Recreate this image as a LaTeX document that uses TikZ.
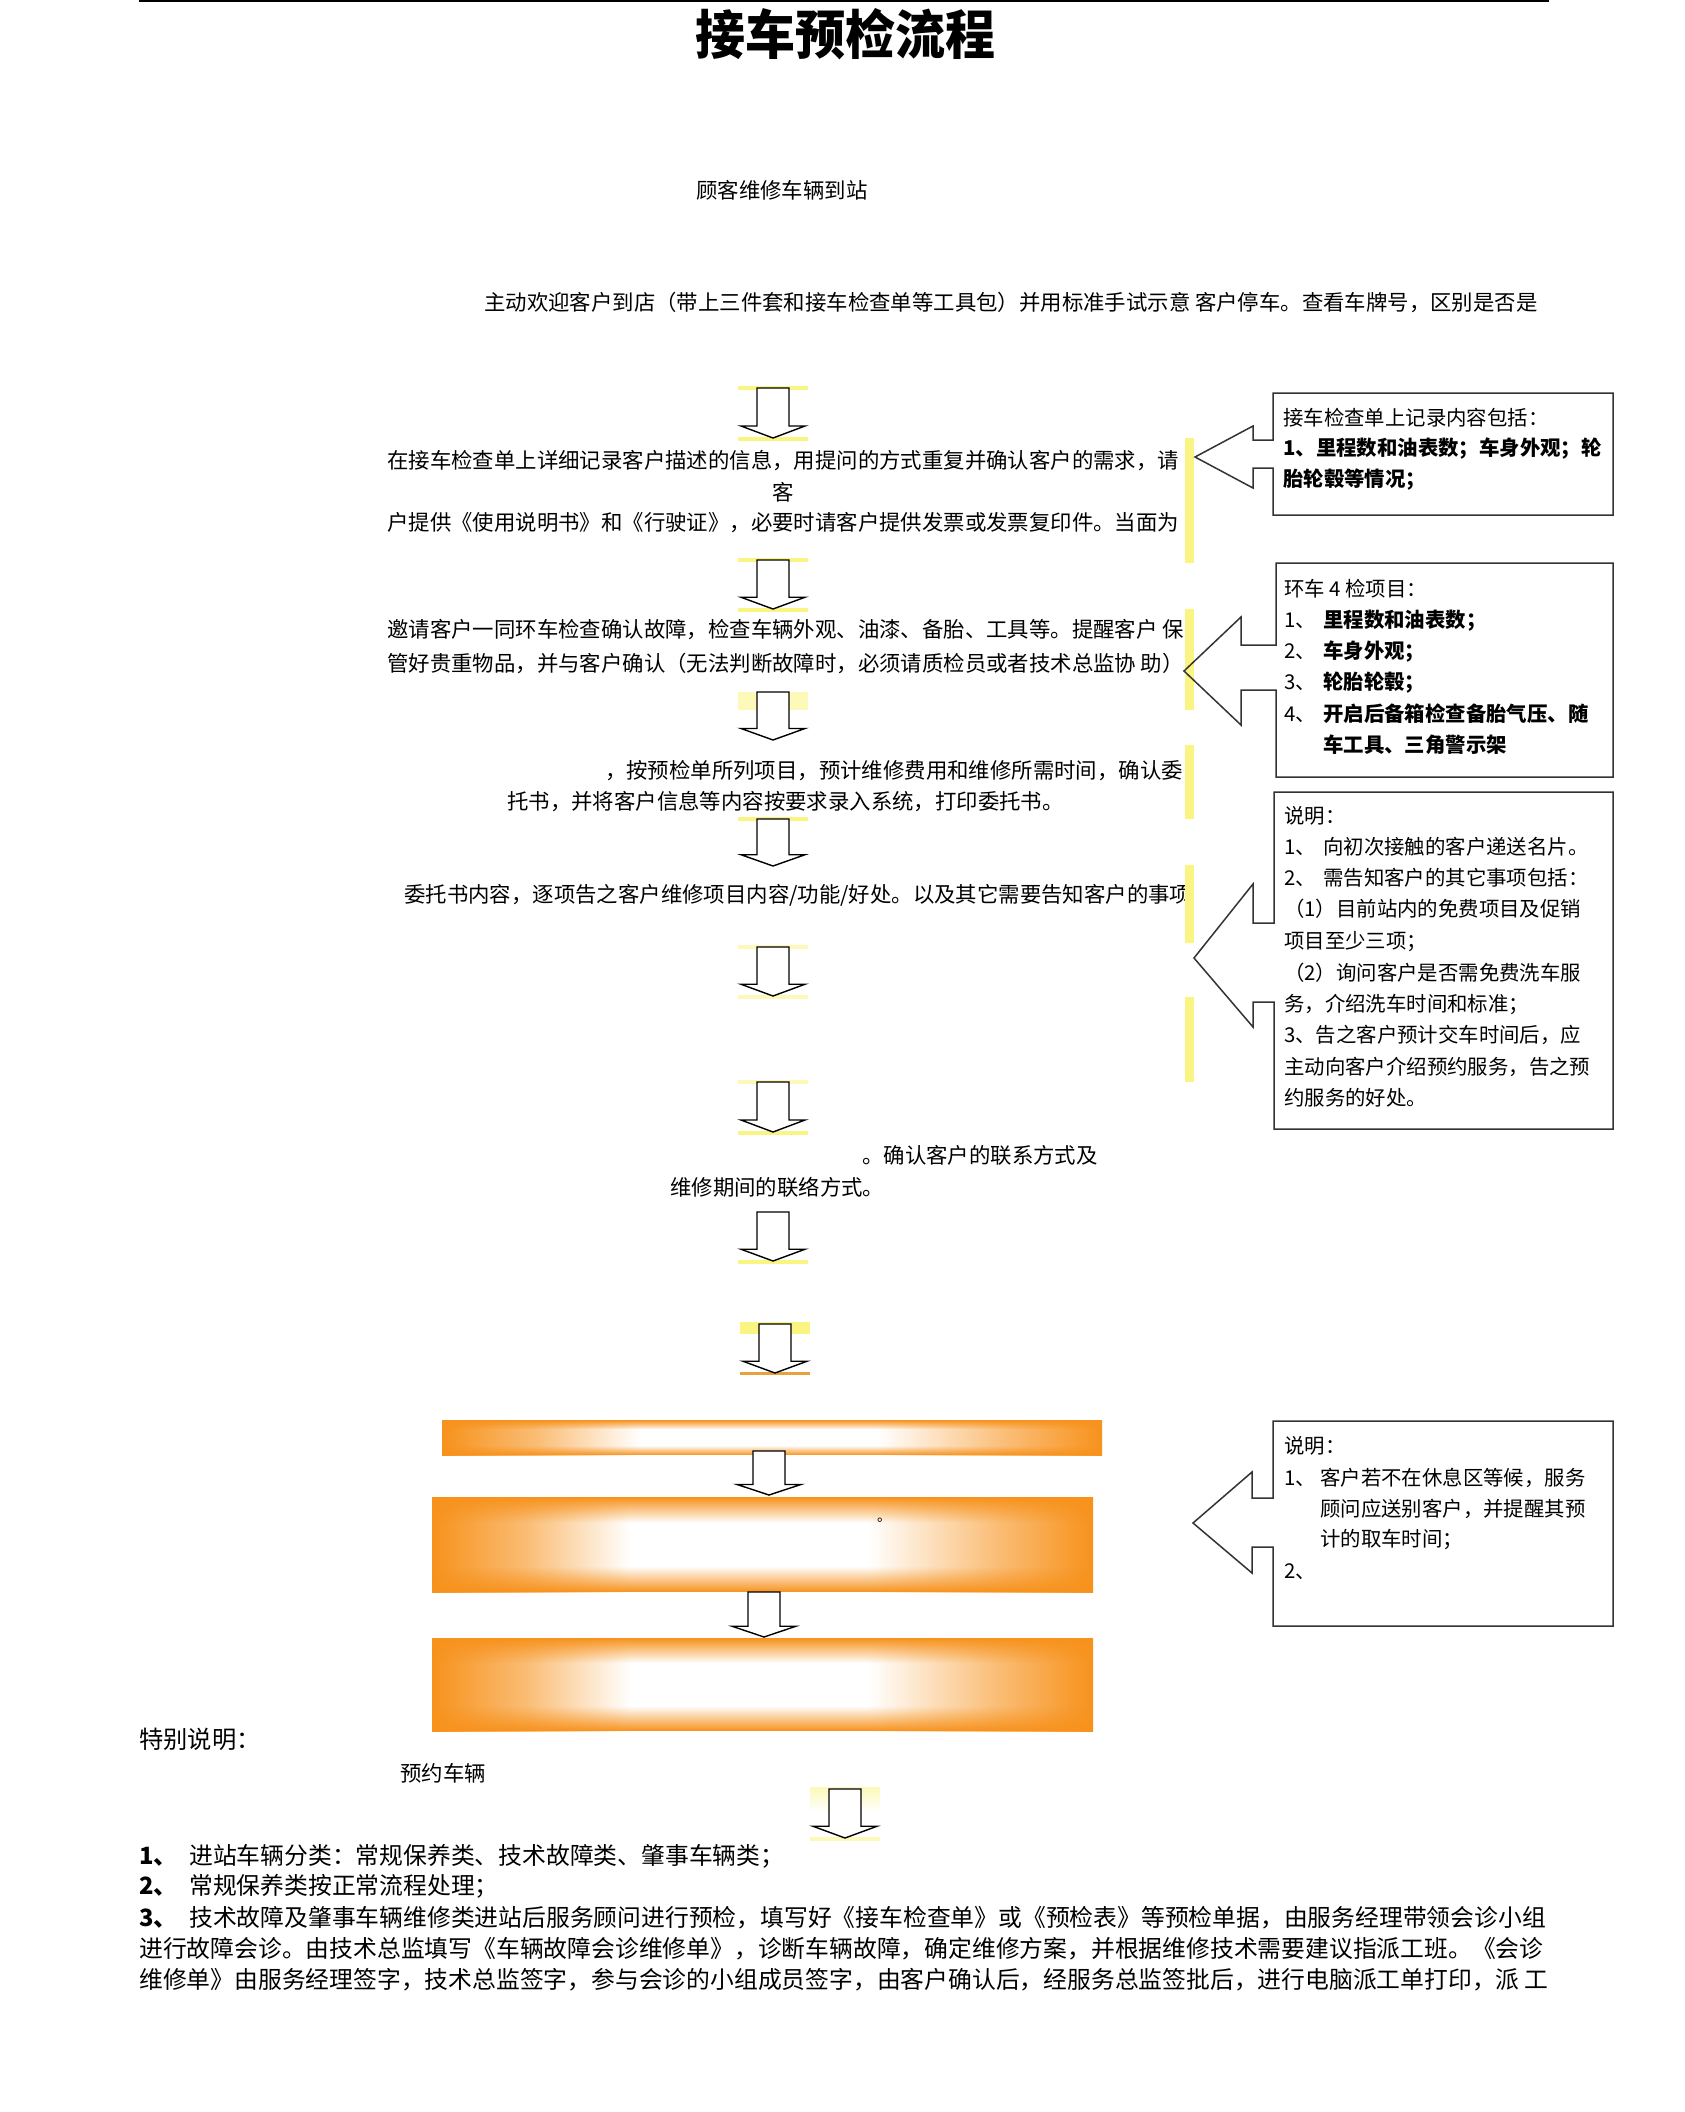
\documentclass[tikz,border=0pt]{standalone}
\usepackage{fontspec}
\setmainfont{Noto Sans CJK SC}
\usetikzlibrary{fadings}
\definecolor{orng}{RGB}{247,146,28}
\definecolor{yel}{RGB}{250,245,130}
\definecolor{lyel}{RGB}{252,249,185}
\pgfdeclarehorizontalshading{hband}{100bp}{color(0bp)=(orng); color(25bp)=(orng); color(32bp)=(orng!62); color(40bp)=(white); color(58bp)=(white); color(68bp)=(orng!62); color(75bp)=(orng); color(100bp)=(orng)}
\tikzfading[name=fadedown, top color=transparent!0, bottom color=transparent!100]
\tikzfading[name=fadeup, top color=transparent!100, bottom color=transparent!0]
\newcommand\dnarrow[4]{%
  \pgfmathsetmacro\arhb{#3+0.76*(#4-#3)}%
  \draw[blockarr] (#2-16,#3) coordinate (#1) -- (#2+16,#3) -- (#2+16,\arhb) -- (#2+32,\arhb) -- (#2,#4) -- (#2-32,\arhb) -- (#2-16,\arhb) -- cycle;}
\newcommand\orband[5]{%
  \fill[shading=hband] (#2,#3) coordinate (#1) rectangle (#4,#5);
  \pgfmathsetmacro\bh{0.27*(#5-#3)}%
  \fill[orng, path fading=fadedown] (#2,#3) rectangle (#4,#3+\bh);
  \fill[orng, path fading=fadeup] (#2,#5-\bh) rectangle (#4,#5);}
\begin{document}
\begin{tikzpicture}[x=1pt,y=-1pt,
  txt/.style={anchor=west, inner sep=0pt, font=\fontsize{21.4}{24}\selectfont},
  rtxt/.style={anchor=west, inner sep=0pt, font=\fontsize{20.4}{24}\selectfont},
  btxt/.style={anchor=west, inner sep=0pt, font=\fontsize{23.8}{28}\selectfont},
  blockarr/.style={draw=black, fill=white, line width=1.4pt, line join=miter},
  callbox/.style={draw=black!80, line width=1.5pt, line join=miter},
  ybar/.style={fill=yel},
  yline/.style={draw=yel, line width=3.5pt}]
\fill[white] (0,0) rectangle (1684,2112);
\useasboundingbox (0,0) rectangle (1684,2112);
% top rule and title
\draw[line width=1.3pt] (139,1) -- (1549,1);
\node[font=\fontsize{50}{56}\bfseries\selectfont, inner sep=0pt, yscale=1.06] (title) at (845,34) {接车预检流程};
% flow texts
\node[txt] (n0) at (696,190) {顾客维修车辆到站};
\node[txt] (n1) at (484,302) {主动欢迎客户到店（带上三件套和接车检查单等工具包）并用标准手试示意 客户停车。查看车牌号，区别是否是};
\node[txt] (n2a) at (387,461) {在接车检查单上详细记录客户描述的信息，用提问的方式重复并确认客户的需求，请};
\node[txt, anchor=center] (n2b) at (783,492) {客};
\node[txt] (n2c) at (387,523) {户提供《使用说明书》和《行驶证》，必要时请客户提供发票或发票复印件。当面为};
\node[txt] (n3a) at (387,630) {邀请客户一同环车检查确认故障，检查车辆外观、油漆、备胎、工具等。提醒客户 保};
\node[txt] (n3b) at (387,663) {管好贵重物品，并与客户确认（无法判断故障时，必须请质检员或者技术总监协 助）};
\node[txt, anchor=east] (n4a) at (1183,771) {，按预检单所列项目，预计维修费用和维修所需时间，确认委};
\node[txt] (n4b) at (507,802) {托书，并将客户信息等内容按要求录入系统，打印委托书。};
\node[txt] (n5) at (404,895) {委托书内容，逐项告之客户维修项目内容/功能/好处。以及其它需要告知客户的事项};
\node[txt] (n6a) at (862,1155) {。确认客户的联系方式及};
\node[txt] (n6b) at (670,1187) {维修期间的联络方式。};
% yellow bars right of texts
\fill[ybar] (1185,438) rectangle (1194,563);
\fill[ybar] (1185,609) rectangle (1194,710);
\fill[ybar] (1185,745) rectangle (1194,819);
\fill[ybar] (1185,865) rectangle (1194,943);
\fill[ybar] (1185,997) rectangle (1194,1082);
% yellow marks around arrows
\draw[yline] (738,388) -- (808,388);
\draw[yline] (738,439) -- (808,439);
\draw[yline] (738,560) -- (808,560);
\draw[yline] (738,610) -- (808,610);
\fill[lyel] (738,692) rectangle (808,710);
\draw[yline] (738,819) -- (808,819);
\draw[yline, draw=lyel] (738,947) -- (808,947);
\draw[yline, draw=lyel] (738,997) -- (808,997);
\draw[yline, draw=lyel] (738,1082) -- (808,1082);
\draw[yline] (738,1133) -- (808,1133);
\draw[yline] (738,1262) -- (808,1262);
\fill[yel] (740,1322) rectangle (810,1334);
\draw[line width=3pt, draw={rgb,255:red,232;green,160;blue,64}] (740,1373) -- (810,1373);
\fill[top color=lyel, bottom color=white] (810,1787) rectangle (880,1812);
\draw[yline, draw=lyel] (810,1839) -- (880,1839);
% down arrows
\dnarrow{a1}{773}{388}{438}
\dnarrow{a2}{773}{560}{609}
\dnarrow{a3}{773}{692}{740}
\dnarrow{a4}{773}{819}{866}
\dnarrow{a5}{773}{947}{996}
\dnarrow{a6}{773}{1082}{1132}
\dnarrow{a7}{773}{1212}{1261}
\dnarrow{a8}{775}{1324}{1373}
% orange bands
\orband{band1}{442}{1420}{1102}{1455}
\orband{band2}{432}{1497}{1093}{1592}
\orband{band3}{432}{1638}{1093}{1731}
\node[inner sep=0pt, anchor=west, font=\fontsize{14}{16}\selectfont] (dot) at (877,1520) {。};
\dnarrow{a9}{769}{1451}{1495}
\dnarrow{a10}{764}{1592}{1637}
\dnarrow{a11}{845}{1789}{1838}
% callout boxes
\draw[callbox] (1273,440) -- (1273,393) -- (1613,393) -- (1613,515) -- (1273,515) -- (1273,468) -- (1253,468) -- (1253,488) -- (1195,457) -- (1253,426) -- (1253,440) -- cycle;
\draw[callbox] (1276,645) -- (1276,563) -- (1613,563) -- (1613,777) -- (1276,777) -- (1276,690) -- (1241,690) -- (1241,725) -- (1184,671) -- (1241,617) -- (1241,645) -- cycle;
\draw[callbox] (1274,923) -- (1274,792) -- (1613,792) -- (1613,1129) -- (1274,1129) -- (1274,1002) -- (1253,1002) -- (1253,1027) -- (1194,958) -- (1253,884) -- (1253,923) -- cycle;
\draw[callbox] (1273,1498) -- (1273,1421) -- (1613,1421) -- (1613,1626) -- (1273,1626) -- (1273,1547) -- (1252,1547) -- (1252,1573) -- (1193,1523) -- (1252,1472) -- (1252,1498) -- cycle;
% box 1 text
\node[rtxt] (b1a) at (1283,418) {接车检查单上记录内容包括：};
\node[rtxt] (b1b) at (1283,449) {\bfseries 1、里程数和油表数；车身外观；轮};
\node[rtxt] (b1c) at (1283,480) {\bfseries 胎轮毂等情况；};
% box 2 text
\node[rtxt] (b2a) at (1284,589) {环车 4 检项目：};
\node[rtxt] (b2b) at (1284,621) {\makebox[39pt][l]{1、}{\bfseries 里程数和油表数；}};
\node[rtxt] (b2c) at (1284,652) {\makebox[39pt][l]{2、}{\bfseries 车身外观；}};
\node[rtxt] (b2d) at (1284,683) {\makebox[39pt][l]{3、}{\bfseries 轮胎轮毂；}};
\node[rtxt] (b2e) at (1284,714) {\makebox[39pt][l]{4、}{\bfseries 开启后备箱检查备胎气压、随}};
\node[rtxt] (b2f) at (1323,745) {\bfseries 车工具、三角警示架};
% box 3 text
\node[rtxt] (b3a) at (1284,816) {说明：};
\node[rtxt] (b3b) at (1284,847) {\makebox[39pt][l]{1、}向初次接触的客户递送名片。};
\node[rtxt] (b3c) at (1284,878) {\makebox[39pt][l]{2、}需告知客户的其它事项包括：};
\node[rtxt] (b3d) at (1284,909) {（1）目前站内的免费项目及促销};
\node[rtxt] (b3e) at (1284,942) {项目至少三项；};
\node[rtxt] (b3f) at (1284,973) {（2）询问客户是否需免费洗车服};
\node[rtxt] (b3g) at (1284,1004) {务，介绍洗车时间和标准；};
\node[rtxt] (b3h) at (1284,1035) {3、告之客户预计交车时间后，应};
\node[rtxt] (b3i) at (1284,1067) {主动向客户介绍预约服务，告之预};
\node[rtxt] (b3j) at (1284,1098) {约服务的好处。};
% box 4 text
\node[rtxt] (b4a) at (1284,1446) {说明：};
\node[rtxt] (b4b) at (1284,1478) {\makebox[36pt][l]{1、}客户若不在休息区等候，服务};
\node[rtxt] (b4c) at (1320,1509) {顾问应送别客户，并提醒其预};
\node[rtxt] (b4d) at (1320,1540) {计的取车时间；};
\node[rtxt] (b4e) at (1284,1572) {2、};
% bottom section
\node[anchor=west, inner sep=0pt, font=\fontsize{24.3}{28}\selectfont] (sp) at (139,1739) {特别说明：};
\node[txt] (n7) at (400,1773) {预约车辆};
\node[btxt] (l1) at (139,1856) {\makebox[50pt][l]{\bfseries 1、}进站车辆分类：常规保养类、技术故障类、肇事车辆类；};
\node[btxt] (l2) at (139,1886) {\makebox[50pt][l]{\bfseries 2、}常规保养类按正常流程处理；};
\node[btxt] (l3) at (139,1918) {\makebox[50pt][l]{\bfseries 3、}技术故障及肇事车辆维修类进站后服务顾问进行预检，填写好《接车检查单》或《预检表》等预检单据，由服务经理带领会诊小组};
\node[btxt] (l4) at (139,1949) {进行故障会诊。由技术总监填写《车辆故障会诊维修单》，诊断车辆故障，确定维修方案，并根据维修技术需要建议指派工班。《会诊};
\node[btxt] (l5) at (139,1980) {维修单》由服务经理签字，技术总监签字，参与会诊的小组成员签字，由客户确认后，经服务总监签批后，进行电脑派工单打印，派 工};
\end{tikzpicture}
\end{document}
